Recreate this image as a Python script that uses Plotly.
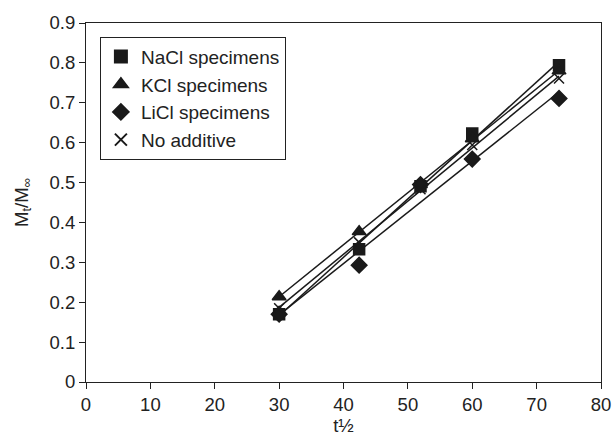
import numpy as np
import plotly.graph_objects as go

t_half = [30, 42.43, 51.96, 60, 73.48]
nacl = [0.17, 0.333, 0.491, 0.623, 0.794]
kcl = [0.214, 0.377, 0.495, 0.61, 0.78]
licl = [0.17, 0.293, 0.495, 0.559, 0.711]
no_add = [0.185, 0.35, 0.483, 0.594, 0.761]

series = [
    ("NaCl specimens", nacl, "square", 11),
    ("KCl specimens", kcl, "triangle-up", 12),
    ("LiCl specimens", licl, "diamond", 12),
    ("No additive", no_add, "x-thin-open", 10),
]

col = "#1a1a1a"
fig = go.Figure()
xs = np.array(t_half)
for name, ys, sym, sz in series:
    m, b = np.polyfit(xs, np.array(ys), 1)
    xl = [xs.min(), xs.max()]
    fig.add_trace(go.Scatter(x=xl, y=[m * v + b for v in xl], mode="lines",
                             line=dict(color=col, width=1.5), showlegend=False,
                             hoverinfo="skip"))
for name, ys, sym, sz in series:
    fig.add_trace(go.Scatter(x=t_half, y=ys, mode="markers", name=name,
                             marker=dict(symbol=sym, size=sz, color=col,
                                         line=dict(color=col, width=1.5))))

fig.update_layout(
    width=613, height=437,
    margin=dict(l=86, r=12, t=23, b=55),
    paper_bgcolor="white", plot_bgcolor="white",
    font=dict(family="Liberation Sans, Arial, sans-serif", size=18, color="#222"),
    legend=dict(x=0.027, y=0.962, xanchor="left", yanchor="top",
                bordercolor="#222", borderwidth=1, bgcolor="white",
                font=dict(size=19), itemsizing="constant", tracegroupgap=0),
    xaxis=dict(range=[0, 80], dtick=10, showgrid=False, zeroline=False,
               showline=True, linecolor="#222", linewidth=1, mirror=True,
               ticks="outside", ticklen=6, tickcolor="#222", automargin=False,
               tickfont=dict(size=18.5),
               title=dict(text="t½", standoff=3, font=dict(size=18.5))),
    yaxis=dict(range=[0, 0.9], dtick=0.1, showgrid=False, zeroline=False,
               showline=True, linecolor="#222", linewidth=1, mirror=True,
               ticks="outside", ticklen=6, tickcolor="#222", tickformat=".1~f",
               automargin=False, tickfont=dict(size=18.5),
               title=dict(text="M<sub>t</sub>/M<sub>∞</sub>", standoff=16,
                          font=dict(size=18.5))),
)
fig.write_html("out.html", config={"displayModeBar": False},
               post_script="document.body.style.margin='0';")
